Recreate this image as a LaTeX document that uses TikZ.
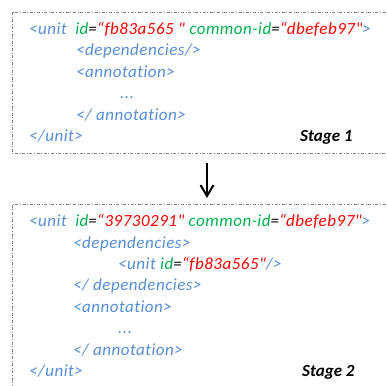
\documentclass[tikz,border=0pt]{standalone}
\usepackage{fontspec}
\setmainfont[Ligatures=NoCommon]{Carlito}
\newfontfamily\codefont[LetterSpace=3,Ligatures=NoCommon]{Carlito}
\usetikzlibrary{arrows.meta}
\definecolor{tagblue}{RGB}{85,142,213}
\definecolor{attgreen}{RGB}{0,176,80}
\definecolor{valred}{RGB}{255,0,0}
\definecolor{boxgray}{RGB}{128,128,128}
\newcommand{\tg}[1]{\textcolor{tagblue}{#1}}
\newcommand{\at}[1]{\textcolor{attgreen}{#1}}
\newcommand{\vl}[1]{\textcolor{valred}{#1}}
\newcommand{\sq}{\symbol{34}}
\begin{document}
\begin{tikzpicture}[x=1pt,y=-1pt,
  codeline/.style={anchor=base west,inner sep=0pt,font=\codefont\fontsize{17}{20}\selectfont\itshape,text=tagblue},
  stagelbl/.style={anchor=base west,inner sep=0pt,font=\fontsize{17}{20}\selectfont\bfseries\itshape,text=black},
  stagebox/.style={draw=boxgray,line width=0.9pt,dash pattern=on 3pt off 1.6pt on 1pt off 1.6pt}]
\useasboundingbox (0,0) rectangle (387,385);
\clip (0,0) rectangle (387,385);
% boxes
\draw[stagebox] (12,12) -- (12,153) -- (400,153);
\draw[stagebox] (400,12) -- (12,12);
\draw[stagebox] (400,204) -- (12,204) -- (12,400);
% stage 1
\node[codeline] (s1l1) at (29,34.5) {<unit\hspace{0.5em}\at{id}\textcolor{black}{=}\vl{“fb83a565 \sq} \at{common-id}\textcolor{black}{=}\vl{“dbefeb97\sq}>};
\node[codeline] (s1l2) at (76,55.9) {<dependencies/>};
\node[codeline] (s1l3) at (76,77.3) {<annotation>};
\node[codeline] (s1l4) at (120,98.7) {...};
\node[codeline] (s1l5) at (76,120.1) {</ annotation>};
\node[codeline] (s1l6) at (29,141.5) {</unit>};
\node[stagelbl] (st1) at (300,141.5) {Stage 1};
% arrow
\coordinate (a1) at (207,163);
\coordinate (a2) at (207,198);
\draw[line width=2pt,-{Straight Barb[length=11pt,width=13pt,line width=2pt]}] (a1) -- (a2);
% stage 2
\node[codeline] (s2l1) at (29,226.7) {<unit\hspace{0.5em}\at{id}\textcolor{black}{=}\vl{“39730291\sq} \at{common-id}\textcolor{black}{=}\vl{“dbefeb97\sq}>};
\node[codeline] (s2l2) at (73,248.1) {<dependencies>};
\node[codeline] (s2l3) at (118,269.5) {<unit \at{id}\textcolor{black}{=}\vl{“fb83a565\sq}/>};
\node[codeline] (s2l4) at (73,290.9) {</ dependencies>};
\node[codeline] (s2l5) at (73,312.3) {<annotation>};
\node[codeline] (s2l6) at (118,333.7) {...};
\node[codeline] (s2l7) at (73,355.1) {</ annotation>};
\node[codeline] (s2l8) at (29,376.5) {</unit>};
\node[stagelbl] (st2) at (302,376.5) {Stage 2};
\end{tikzpicture}
\end{document}
